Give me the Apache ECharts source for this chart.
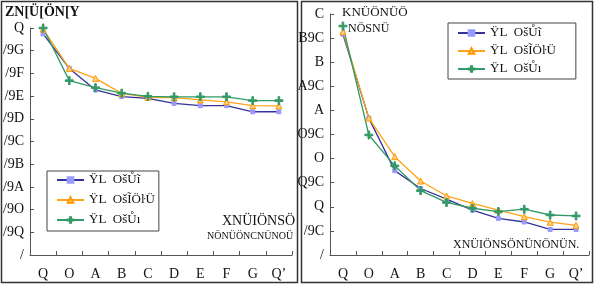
<!DOCTYPE html>
<html>
<head>
<meta charset="utf-8">
<script src="https://cdn.jsdelivr.net/npm/echarts@6/dist/echarts.min.js"></script>
<style>
  html, body { margin: 0; background: #fff; }
  #main { width: 595px; height: 285px; }
</style>
</head>
<body>
<div id="main"></div>
<script>
// categories and tick labels (as they appear in the picture)
var xLabels = ['Q', 'O', 'A', 'B', 'C', 'D', 'E', 'F', 'G', 'Q\u2019'];
var leftYLabels = ['/', '/9Q', '/9O', '/9A', '/9B', '/9C', '/9D', '/9E', '/9F', '/9G', 'Q'];
var rightYLabels = ['/', '/9C', 'Q', 'Q9C', 'O', 'O9C', 'A', 'A9C', 'B', 'B9C', 'C'];
var seriesNames = ['\u0178L  O\u0161\u016e\u0129', '\u0178L  O\u0161\u0128\u00d6\u0140\u00dc', '\u0178L  O\u0161\u016e\u0131'];

// left panel values
var leftA = [0.974, 0.822, 0.727, 0.698, 0.690, 0.668, 0.658, 0.658, 0.631, 0.631];
var leftB = [0.995, 0.822, 0.778, 0.712, 0.695, 0.693, 0.683, 0.675, 0.658, 0.657];
var leftC = [1.000, 0.768, 0.737, 0.713, 0.699, 0.697, 0.697, 0.697, 0.680, 0.680];

// right panel values
var rightA = [4.58, 2.84, 1.75, 1.38, 1.16, 0.93, 0.76, 0.685, 0.53, 0.53];
var rightB = [4.63, 2.84, 2.04, 1.535, 1.225, 1.07, 0.93, 0.795, 0.68, 0.615];
var rightC = [4.75, 2.49, 1.85, 1.335, 1.09, 0.97, 0.90, 0.95, 0.83, 0.81];

var FONT = 'Liberation Serif';
var plus = 'path://M4,0H6V4H10V6H6V10H4V6H0V4H4Z';

var styles = [
  { line: '#333399', symbol: 'rect', size: 4, fill: '#9999ff', border: '#9999ff' },
  { line: '#ffa31a', symbol: 'triangle', size: 6, fill: '#ffd27f', border: '#ff9900' },
  { line: '#339966', symbol: plus, size: 8, fill: '#339966', border: '#339966' }
];

function mkSeries(idx, data, axisIdx) {
  var s = styles[idx];
  return {
    name: seriesNames[idx], type: 'line', data: data,
    xAxisIndex: axisIdx, yAxisIndex: axisIdx,
    symbol: s.symbol, symbolSize: s.size, showSymbol: true,
    lineStyle: { color: s.line, width: 1.3 },
    itemStyle: { color: s.fill, borderColor: s.border, borderWidth: 1 },
    color: s.line
  };
}

var AXIS_COLOR = '#555';

function xAx(gi) {
  return {
    type: 'category', gridIndex: gi, data: xLabels, boundaryGap: true,
    axisLine: { show: true, onZero: false, lineStyle: { color: AXIS_COLOR, width: 1 } },
    axisTick: { show: true, inside: true, length: 4, interval: 0, lineStyle: { color: AXIS_COLOR, width: 1 } },
    splitLine: { show: false },
    axisLabel: { fontFamily: FONT, fontSize: 14, color: '#111', margin: 12 }
  };
}

function yAx(gi, max, step, labels) {
  return {
    type: 'value', gridIndex: gi, min: 0, max: max, interval: step,
    position: 'left',
    axisLine: { show: true, onZero: false, lineStyle: { color: AXIS_COLOR, width: 1 } },
    axisTick: { show: true, inside: true, length: 4, lineStyle: { color: AXIS_COLOR, width: 1 } },
    splitLine: { show: false },
    axisLabel: {
      fontFamily: FONT, fontSize: 14, color: '#111', margin: 6,
      formatter: function (v) { return labels[Math.round(v / step)]; }
    }
  };
}

function legendAt(left, top, gap, pad) {
  return {
    data: seriesNames.slice(),
    orient: 'vertical', left: left, top: top,
    itemWidth: 27, itemHeight: 7, itemGap: gap,
    padding: pad,
    borderColor: '#444', borderWidth: 1,
    textStyle: { fontFamily: FONT, fontSize: 13, lineHeight: 14, color: '#111' }
  };
}

var option = {
  animation: false,
  backgroundColor: '#fff',
  textStyle: { fontFamily: FONT },
  grid: [
    { left: 28, right: 303, top: 28, bottom: 30 },
    { left: 330, right: 6, top: 14, bottom: 30 }
  ],
  xAxis: [xAx(0), xAx(1)],
  yAxis: [yAx(0, 1, 0.1, leftYLabels), yAx(1, 5, 0.5, rightYLabels)],
  legend: [
    legendAt(47, 171, 6, [2, 4, 4, 9]),
    legendAt(448, 23, 4, [3, 20, 3, 9])
  ],
  graphic: [
    { type: 'rect', shape: { x: 1.5, y: 1.5, width: 296, height: 281 }, style: { fill: 'none', stroke: '#333', lineWidth: 1.5 }, silent: true },
    { type: 'rect', shape: { x: 301.5, y: 1.5, width: 291, height: 281 }, style: { fill: 'none', stroke: '#333', lineWidth: 1.5 }, silent: true },
    { type: 'text', left: 5, top: 5, style: { text: 'ZN[\u00dc[\u00d6N[Y', font: 'bold 14px "Liberation Serif"', fill: '#111' } },
    { type: 'text', left: 222, top: 214, style: { text: 'XN\u00dcI\u00d6NS\u00d6', font: '14px "Liberation Serif"', fill: '#111' } },
    { type: 'text', left: 207, top: 231, style: { text: 'N\u00d6N\u00dc\u00d6NCN\u00dcNO\u00dc', font: '10px "Liberation Serif"', fill: '#111' } },
    { type: 'text', left: 342, top: 6, style: { text: 'KN\u00dc\u00d6N\u00dc\u00d6', font: '13px "Liberation Serif"', fill: '#111' } },
    { type: 'text', left: 348, top: 23, style: { text: 'N\u00d6SN\u00dc', font: '12px "Liberation Serif"', fill: '#111' } },
    { type: 'text', left: 453, top: 239, style: { text: 'XN\u00dcI\u00d6NS\u00d6N\u00dcN\u00d6N\u00dcN.', font: '12px "Liberation Serif"', fill: '#111' } }
  ],
  series: [
    mkSeries(0, leftA, 0), mkSeries(1, leftB, 0), mkSeries(2, leftC, 0),
    mkSeries(0, rightA, 1), mkSeries(1, rightB, 1), mkSeries(2, rightC, 1)
  ]
};

var chart = echarts.init(document.getElementById('main'), null, { renderer: 'canvas' });
chart.setOption(option);
</script>
</body>
</html>
